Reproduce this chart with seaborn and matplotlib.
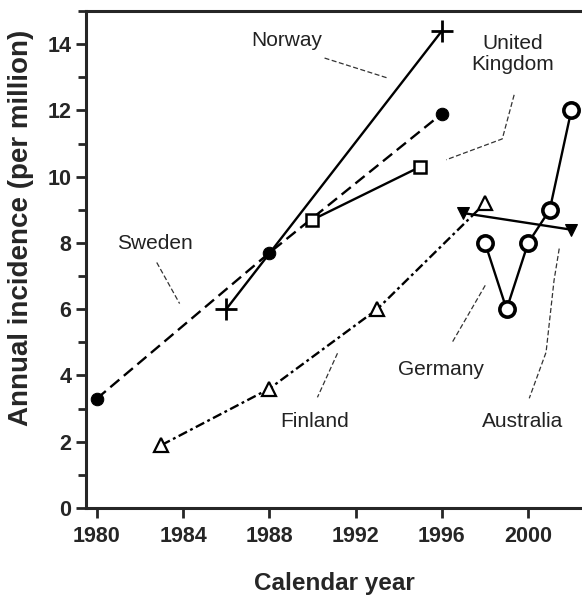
import numpy as np
import pandas as pd
import seaborn as sns
import matplotlib.pyplot as plt
from matplotlib.ticker import MultipleLocator

# dados
sweden_years = [1980, 1988, 1996]
sweden_vals = [3.3, 7.7, 11.9]

norway_years = [1986, 1996]
norway_vals = [6.0, 14.4]

uk_years = [1990, 1995]
uk_vals = [8.7, 10.3]

finland_years = [1983, 1988, 1993, 1998]
finland_vals = [1.9, 3.6, 6.0, 9.2]

germany_years = [1998, 1999, 2000, 2001, 2002]
germany_vals = [8.0, 6.0, 8.0, 9.0, 12.0]

australia_years = [1997, 2002]
australia_vals = [8.9, 8.4]

# rotulos e linhas guia (coordenadas dos dados)
labels = ['Norway', 'United\nKingdom', 'Sweden', 'Germany', 'Finland', 'Australia']
label_pos = [(1988.8, 14.1), (1999.3, 13.7), (1982.7, 7.98),
             (1995.95, 4.19), (1990.1, 2.62), (1999.75, 2.62)]
leaders = [
    [(1990.56, 13.58), (1993.47, 12.98)],
    [(1999.35, 12.47), (1998.80, 11.14), (1996.20, 10.51)],
    [(1982.78, 7.41), (1983.84, 6.17)],
    [(1998.01, 6.72), (1996.48, 5.0)],
    [(1991.16, 4.67), (1990.23, 3.34)],
    [(2001.44, 7.83), (2001.20, 6.87), (2000.83, 4.70), (2000.05, 3.31)],
]

sns.set_style('ticks')
plt.rcParams['font.family'] = ['Liberation Sans', 'DejaVu Sans']

fig = plt.figure(figsize=(5.82, 5.99), dpi=100)
ax = fig.add_axes([86 / 582, 91 / 599, 1.0 - 86 / 582 + 0.002, 497 / 599])

lw = 1.7
sns.lineplot(x=sweden_years, y=sweden_vals, ax=ax, color='black', lw=lw,
             linestyle=(0, (5, 2.5)), marker='o', markersize=9,
             markerfacecolor='black', markeredgecolor='black')
sns.lineplot(x=norway_years, y=norway_vals, ax=ax, color='black', lw=lw,
             marker='+', markersize=16, markeredgewidth=2,
             markeredgecolor='black')
sns.lineplot(x=uk_years, y=uk_vals, ax=ax, color='black', lw=lw,
             marker='s', markersize=8, markerfacecolor='white',
             markeredgecolor='black', markeredgewidth=1.8)
sns.lineplot(x=finland_years, y=finland_vals, ax=ax, color='black', lw=lw,
             linestyle=(0, (4, 1.5, 1.2, 1.5)), marker='^', markersize=10,
             markerfacecolor='white', markeredgecolor='black', markeredgewidth=1.6)
sns.lineplot(x=australia_years, y=australia_vals, ax=ax, color='black', lw=lw,
             marker='v', markersize=9, markerfacecolor='black',
             markeredgecolor='black')
sns.lineplot(x=germany_years, y=germany_vals, ax=ax, color='black', lw=lw,
             marker='o', markersize=11, markerfacecolor='white',
             markeredgecolor='black', markeredgewidth=2.6)

for pts in leaders:
    xs, ys = zip(*pts)
    ax.plot(xs, ys, color='#333333', lw=0.9, linestyle=(0, (4, 2)))

for txt, (x, y) in zip(labels, label_pos):
    ax.text(x, y, txt, ha='center', va='center', fontsize=15,
            color='#222222', linespacing=1.15)

ax.set_xlim(1979.5, 2002.55)
ax.set_ylim(0, 15)
ax.xaxis.set_major_locator(MultipleLocator(4))
ax.yaxis.set_major_locator(MultipleLocator(2))
ax.yaxis.set_minor_locator(MultipleLocator(1))

for s in ['left', 'bottom', 'top']:
    ax.spines[s].set_linewidth(2.2)
ax.spines['right'].set_visible(False)

ax.tick_params(axis='both', which='major', direction='out', length=7, width=2,
               labelsize=15.5)
ax.tick_params(axis='x', which='major', pad=6)
ax.tick_params(axis='y', which='minor', direction='out', length=6, width=2)
for lab in ax.get_xticklabels() + ax.get_yticklabels():
    lab.set_fontweight('bold')

ax.set_xlabel('Calendar year', fontsize=17.5, fontweight='bold', labelpad=18)
ax.set_ylabel('Annual incidence (per million)', fontsize=20, fontweight='bold')
ax.yaxis.set_label_coords(-0.105, 0.563)

plt.savefig('out.png', dpi=100)
